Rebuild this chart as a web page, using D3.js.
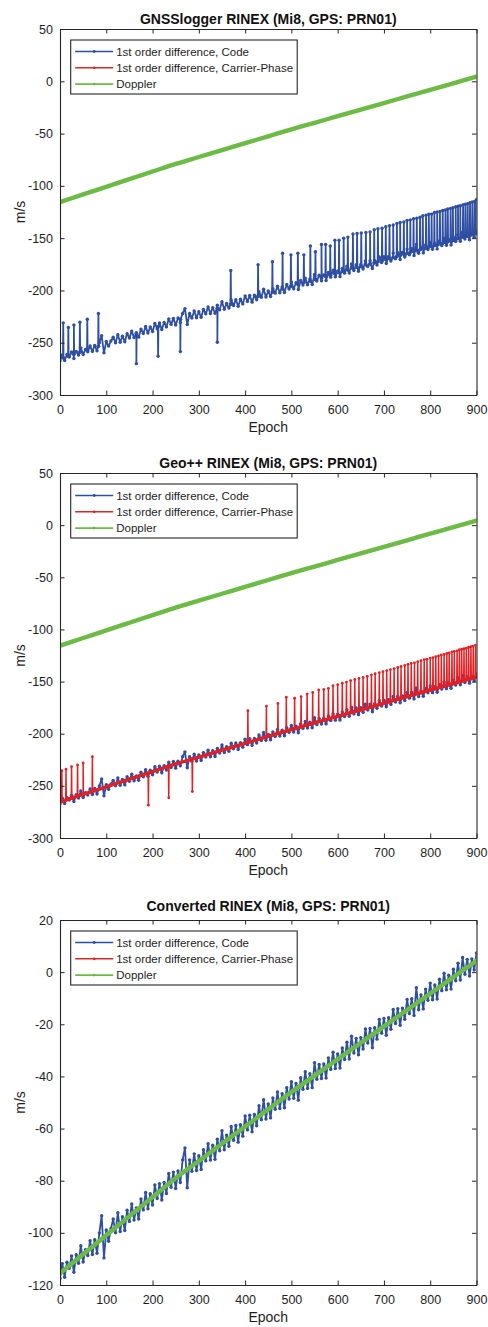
<!DOCTYPE html>
<html><head><meta charset="utf-8">
<script src="https://cdn.jsdelivr.net/npm/d3@7"></script>
<style>
html,body{margin:0;padding:0;background:#fff;}
svg{display:block;font-family:"Liberation Sans",Arial,sans-serif;}
</style></head>
<body>
<svg id="chart" width="488" height="1327"></svg>
<script>
// ---------------- DATA ----------------
const titles = ["GNSSlogger RINEX (Mi8, GPS: PRN01)", "Geo++ RINEX (Mi8, GPS: PRN01)", "Converted RINEX (Mi8, GPS: PRN01)"];
const legendLabels = ["1st order difference, Code", "1st order difference, Carrier-Phase", "Doppler"];
const xLabel = "Epoch";
const yLabel = "m/s";
const xTicks = [0, 100, 200, 300, 400, 500, 600, 700, 800, 900];
const yTicksRaw = [-300, -250, -200, -150, -100, -50, 0, 50];
const yTicksConv = [-120, -100, -80, -60, -40, -20, 0, 20];

// Doppler (m/s), every 50 epochs
const dopplerEpochs = [0, 50, 100, 150, 200, 250, 300, 350, 400, 450, 500, 550, 600, 650, 700, 750, 800, 850, 900];
const doppler = [-115.5, -108.2, -100.9, -93.6, -86.3, -79.0, -72.4, -65.8, -59.2, -52.6, -46.0, -39.7, -33.4, -27.1, -20.8, -14.5, -8.2, -1.9, 4.4];

// Code 1st-order difference, converted RINEX (m/s), every 5 epochs (0..900)
const codeEpochs = d3.range(0, 901, 5);
const codeConverted = [
 -117.5,-111.8,-117.0,-111.3,-113.6,-108.9,-115.1,-108.4,-111.7,-104.9,
 -111.2,-106.5,-108.7,-103.0,-108.3,-102.6,-107.8,-100.1,-93.4,-109.6,
 -98.9,-103.2,-98.4,-94.7,-100.0,-92.3,-99.5,-93.8,-99.1,-91.3,
 -95.6,-88.9,-95.1,-90.4,-94.7,-87.0,-91.2,-84.5,-90.8,-85.0,
 -89.3,-81.6,-86.8,-81.1,-87.4,-80.7,-84.9,-77.2,-82.5,-76.7,
 -83.0,-76.3,-80.7,-72.0,-67.4,-82.7,-72.0,-76.4,-69.7,-76.1,
 -70.4,-75.7,-68.1,-72.4,-65.8,-72.1,-66.4,-71.8,-64.1,-68.5,
 -60.8,-68.1,-62.5,-66.8,-59.2,-64.5,-58.8,-65.2,-58.5,-62.9,
 -55.2,-60.5,-54.9,-61.2,-54.6,-58.9,-51.2,-56.6,-48.9,-56.3,
 -50.6,-55.9,-48.3,-52.6,-46.0,-52.3,-46.6,-52.0,-44.3,-48.7,
 -42.0,-48.4,-42.7,-49.1,-40.5,-44.9,-38.2,-44.6,-39.0,-44.3,
 -34.7,-41.1,-35.4,-40.8,-35.2,-40.6,-32.9,-37.3,-30.7,-37.0,
 -31.4,-36.8,-29.1,-33.5,-26.9,-33.3,-24.6,-31.0,-25.4,-31.7,
 -25.1,-29.5,-21.8,-27.2,-21.6,-29.0,-21.3,-25.7,-18.1,-23.4,
 -17.8,-24.2,-17.5,-21.9,-14.3,-19.7,-14.0,-20.4,-13.8,-18.1,
 -10.5,-15.9,-10.2,-16.6,-6.0,-14.4,-8.7,-14.1,-6.5,-10.8,
 -4.2,-10.6,-4.9,-10.3,-2.7,-7.1,-0.4,-6.8,-1.2,-6.5,
 1.1,-3.3,3.4,-3.0,5.6,-0.8,4.9,-1.5,5.1,0.8,
 7.4
];
// receiver clock offset between raw-logged and converted code differences (m/s)
const rawCodeOffset = -150;

// Carrier-phase 1st-order difference, Geo++ RINEX, baseline every 50 epochs
const phaseGeo = [-265.5, -258.2, -250.9, -243.6, -236.3, -229.0, -222.4, -215.8, -209.2, -202.6, -196.0, -189.7, -183.4, -177.1, -170.8, -164.5, -158.2, -151.9, -145.6];
// Carrier-phase 1st-order difference, converted RINEX (coincides with Doppler)
const phaseConverted = [-115.5, -108.2, -100.9, -93.6, -86.3, -79.0, -72.4, -65.8, -59.2, -52.6, -46.0, -39.7, -33.4, -27.1, -20.8, -14.5, -8.2, -1.9, 4.4];

// Outlier spikes: [epoch, value before/after, spike value]
const spikesLoggerCode = [
 [7,-264.5,-231],[18,-263,-235.5],[30,-261,-233],[43,-259,-230.5],[59,-257,-227.5],[83,-253.5,-222],
 [165,-241.5,-270],[212,-234.5,-263],[260,-227.5,-258.5],[340,-217,-249.5],
 [369,-213,-181],[428,-205.5,-175.5],[459,-201.5,-172.5],[481,-198.5,-164.5],[499,-196,-166],[514,-194,-164.5],
 [527,-192.5,-166],[541,-191,-157.5],[552,-189.5,-163],[565,-188,-156],[574,-186.5,-156],[584,-185.5,-157.5],[594,-184,-152],
 [603,-183,-152],[613,-182,-150],[622,-180.5,-149],[633,-179,-146],[642,-178,-145.5],[651,-177,-145],[661,-175.5,-144.5],
 [670,-174.5,-144],[679,-173.5,-142],[687,-172.5,-141],[696,-171.5,-140.5],[704,-170.5,-139],[712,-169.5,-138],[720,-168.5,-137.5],
 [728,-167.5,-136],[735,-166.5,-135],[743,-165.5,-134.5],[750,-164.5,-133],[757,-163.5,-132.5],[764,-162.5,-131.5],[771,-162,-131],
 [778,-161,-130],[784,-160,-128.5],[791,-159.5,-128],[797,-158.5,-127],[803,-158,-127],[809,-157,-125.5],[815,-156.5,-125],
 [821,-155.5,-124.5],[827,-155,-123.5],[833,-154,-123],[838,-153.5,-122],[844,-152.5,-121.5],[849,-152,-121],[855,-151.5,-120],
 [860,-150.5,-119.5],[865,-150,-119],[871,-149,-118],[876,-148.5,-117.5],[881,-148,-117],[886,-147.5,-116],[891,-146.5,-115.5],
 [896,-146,-115],[900,-145.5,-113]
];
const spikesGeoPhase = [
 [4,-265,-235.5],[13,-263.5,-234],[25,-262,-231.5],[38,-260,-230],[50,-258,-228],[70,-255.5,-222],
 [191,-237.5,-268.5],[235,-231,-261.5],[286,-224,-255.5],
 [406,-208.5,-178],[446,-203,-173.5],[471,-200,-171],[489,-197.5,-165],[507,-195,-166],[521,-193.5,-164.5],[534,-191.5,-162],
 [546,-190,-160.5],[559,-188.5,-158],[570,-187,-157.5],[580,-186,-156.5],[590,-184.5,-154],[600,-183.5,-153],
 [610,-182,-151.5],[619,-181,-150.5],[628,-180,-149],[637,-178.5,-148],[646,-177.5,-147],[655,-176.5,-146],[664,-175.5,-145],
 [673,-174,-143.5],[681,-173,-142.5],[690,-172,-141.5],[698,-171,-140.5],[706,-170,-139.5],[714,-169,-138.5],[722,-168,-137.5],
 [730,-167,-136.5],[737,-166,-135.5],[745,-165,-134.5],[752,-164,-133.5],[759,-163.5,-132.5],[766,-162.5,-132],[773,-161.5,-131],
 [780,-160.5,-130],[787,-160,-129],[793,-159,-128.5],[800,-158,-127.5],[806,-157.5,-127],[812,-156.5,-126],[818,-156,-125.5],
 [824,-155,-124.5],[830,-154.5,-124],[836,-153.5,-123],[841,-153,-122.5],[847,-152.5,-121.5],[852,-151.5,-121],[858,-151,-120.5],
 [863,-150.5,-119.5],[868,-149.5,-119],[873,-149,-118.5],[878,-148.5,-118],[883,-147.5,-117],[888,-147,-116.5],[893,-146.5,-116],
 [898,-146,-115]
];

// ---------------- STYLE / LAYOUT ----------------
const colors = {code: "#2f4fa3", phase: "#e41f23", doppler: "#6cbb45"};
const legendColors = ["#2f4e9e", "#d42a2a", "#6cbb45"];
const plotLeft = 60, plotRight = 476.5;

function merge(epochs, values, spikes) {
  const pts = epochs.map((e, i) => [e, values[i]]);
  (spikes || []).forEach(s => { pts.push([s[0] - 0.6, s[1]], [s[0], s[2]], [s[0] + 0.6, s[1]]); });
  return pts.sort((a, b) => a[0] - b[0]);
}

const codeRaw = codeConverted.map(v => v + rawCodeOffset);

const panels = [
  {top: 29, bottom: 395, titleDy: -5, domain: [-300, 50], yTicks: yTicksRaw,
   code: merge(codeEpochs, codeRaw, spikesLoggerCode), phase: null,
   dop: merge(dopplerEpochs, doppler)},
  {top: 473, bottom: 838, titleDy: -5.5, domain: [-300, 50], yTicks: yTicksRaw,
   code: merge(codeEpochs, codeRaw), phase: merge(dopplerEpochs, phaseGeo, spikesGeoPhase),
   dop: merge(dopplerEpochs, doppler)},
  {top: 920, bottom: 1285, titleDy: -9.5, domain: [-120, 20], yTicks: yTicksConv,
   code: merge(codeEpochs, codeConverted), phase: merge(dopplerEpochs, phaseConverted),
   dop: merge(dopplerEpochs, doppler)}
];

const svg = d3.select("#chart");
const textColor = "#1e1e1e";

panels.forEach((p, pi) => {
  const x = d3.scaleLinear().domain([0, 900]).range([plotLeft, plotRight]);
  const y = d3.scaleLinear().domain(p.domain).range([p.bottom, p.top]);
  const g = svg.append("g");

  const clipId = "clip" + pi;
  svg.append("clipPath").attr("id", clipId).append("rect")
    .attr("x", plotLeft).attr("y", p.top).attr("width", plotRight - plotLeft).attr("height", p.bottom - p.top);

  const data = g.append("g").attr("clip-path", `url(#${clipId})`);
  const line = d3.line().x(d => x(d[0])).y(d => y(d[1]));
  const smooth = d3.line().x(d => x(d[0])).y(d => y(d[1])).curve(d3.curveMonotoneX);

  // Code
  data.append("path").datum(p.code).attr("d", line)
    .attr("fill", "none").attr("stroke", colors.code).attr("stroke-width", 1.8).attr("stroke-linejoin", "round");
  data.append("g").selectAll("circle").data(p.code).join("circle")
    .attr("cx", d => x(d[0])).attr("cy", d => y(d[1])).attr("r", 1.7).attr("fill", colors.code);

  // Carrier phase
  if (p.phase) {
    data.append("path").datum(p.phase).attr("d", line)
      .attr("fill", "none").attr("stroke", colors.phase).attr("stroke-width", pi === 1 ? 1.5 : 2).attr("stroke-linejoin", "round");
    if (pi === 1) {
      data.append("path").datum(merge(dopplerEpochs, phaseGeo)).attr("d", smooth)
        .attr("fill", "none").attr("stroke", colors.phase).attr("stroke-width", 3.4);
      data.append("g").selectAll("circle").data(p.phase).join("circle")
        .attr("cx", d => x(d[0])).attr("cy", d => y(d[1])).attr("r", 1.4).attr("fill", colors.phase);
    }
  }

  // Doppler
  data.append("path").datum(p.dop).attr("d", smooth)
    .attr("fill", "none").attr("stroke", colors.doppler).attr("stroke-width", 4.4).attr("stroke-linecap", "round");

  // Axes
  const fmt = d => String(d);
  const axB = g.append("g").attr("transform", `translate(0,${p.bottom})`)
    .call(d3.axisBottom(x).tickValues(xTicks).tickFormat(fmt).tickSizeInner(-4.5).tickSizeOuter(0).tickPadding(10));
  const axT = g.append("g").attr("transform", `translate(0,${p.top})`)
    .call(d3.axisTop(x).tickValues(xTicks).tickFormat("").tickSizeInner(-4.5).tickSizeOuter(0));
  const axL = g.append("g").attr("transform", `translate(${plotLeft},0)`)
    .call(d3.axisLeft(y).tickValues(p.yTicks).tickFormat(fmt).tickSizeInner(-4.5).tickSizeOuter(0).tickPadding(7));
  const axR = g.append("g").attr("transform", `translate(${plotRight},0)`)
    .call(d3.axisRight(y).tickValues(p.yTicks).tickFormat("").tickSizeInner(-4.5).tickSizeOuter(0));
  [axB, axT, axL, axR].forEach(a => {
    a.selectAll("path.domain").attr("stroke", "#262626").attr("stroke-width", 1.1);
    a.selectAll(".tick line").attr("stroke", "#262626").attr("stroke-width", 1);
    a.selectAll("text").attr("font-size", 12.5).attr("fill", textColor).attr("font-family", '"Liberation Sans",Arial,sans-serif');
  });

  // Title
  g.append("text").attr("x", (plotLeft + plotRight) / 2).attr("y", p.top + p.titleDy)
    .attr("text-anchor", "middle").attr("font-weight", "bold").attr("font-size", 14).attr("fill", "#111")
    .text(titles[pi]);
  // Axis labels
  g.append("text").attr("x", (plotLeft + plotRight) / 2).attr("y", p.bottom + 37)
    .attr("text-anchor", "middle").attr("font-size", 14).attr("fill", textColor).text(xLabel);
  g.append("text").attr("transform", `translate(19.5,${(p.top + p.bottom) / 2}) rotate(-90)`)
    .attr("text-anchor", "middle").attr("dominant-baseline", "central").attr("font-size", 14).attr("fill", textColor).text(yLabel);

  // Legend
  const lg = g.append("g").attr("transform", `translate(70.7,${p.top + 11})`);
  lg.append("rect").attr("x", 0).attr("y", 0).attr("width", 226.5).attr("height", 54)
    .attr("fill", "#fff").attr("stroke", "#262626").attr("stroke-width", 1.1);
  legendLabels.forEach((lab, i) => {
    const yy = 11.5 + i * 16.3;
    lg.append("line").attr("x1", 4.5).attr("x2", 42.5).attr("y1", yy).attr("y2", yy)
      .attr("stroke", legendColors[i]).attr("stroke-width", 1.6);
    lg.append("circle").attr("cx", 23.5).attr("cy", yy).attr("r", 1.4).attr("fill", legendColors[i]);
    lg.append("text").attr("x", 45.5).attr("y", yy).attr("dominant-baseline", "central")
      .attr("font-size", 11.5).attr("fill", textColor).text(lab);
  });
});
</script>
</body></html>
